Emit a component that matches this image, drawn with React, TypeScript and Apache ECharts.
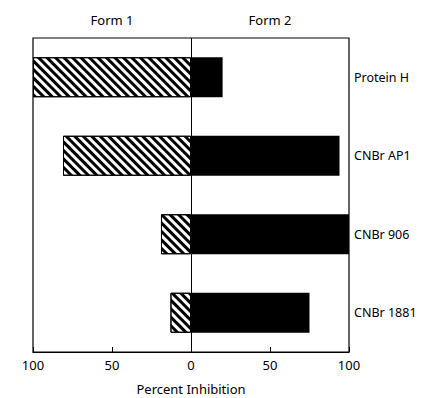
import React, { useEffect, useRef } from "react";
import * as echarts from "echarts";

const categories = ["Protein H", "CNBr AP1", "CNBr 906", "CNBr 1881"];
const form1Values = [100, 81, 19, 13];
const form2Values = [20, 94, 100, 75];
const tickValues = [-100, -50, 0, 50, 100];
const panelTitles = ["Form 1", "Form 2"];

const FONT = "Noto Sans";

export default function App() {
  const ref = useRef<HTMLDivElement>(null);
  useEffect(() => {
    if (!ref.current) return;
    const chart = echarts.init(ref.current, null, { renderer: "svg" });
    const gridLeft = 33, gridRight = 73;
    const plotW = 422 - gridLeft - gridRight;
    chart.setOption({
      animation: false,
      backgroundColor: "#fff",
      grid: {
        left: gridLeft, right: gridRight, top: 38, bottom: 46,
        outerBoundsMode: "none", containLabel: false,
        show: true, borderColor: "#000", borderWidth: 1.2, backgroundColor: "transparent",
      },
      graphic: panelTitles.map((t, i) => ({
        type: "text",
        x: gridLeft + plotW * (0.25 + 0.5 * i),
        y: 20,
        style: { text: t, font: `13px "${FONT}"`, fill: "#000", align: "center", verticalAlign: "middle" },
      })),
      xAxis: {
        type: "value",
        min: -100,
        max: 100,
        interval: 50,
        name: "Percent Inhibition",
        nameLocation: "middle",
        nameGap: 30,
        nameTextStyle: { fontFamily: FONT, fontSize: 13, color: "#000" },
        axisLine: { show: true, onZero: false, lineStyle: { color: "#000", width: 1.2 } },
        axisTick: { show: true, inside: true, length: 5, lineStyle: { color: "#000" } },
        axisLabel: {
          fontFamily: FONT, fontSize: 13, color: "#000", margin: 6,
          formatter: (v: number) => (tickValues.includes(v) ? String(Math.abs(v)) : ""),
        },
        splitLine: { show: false },
      },
      yAxis: {
        type: "category",
        data: categories,
        inverse: true,
        position: "right",
        axisLine: { show: false },
        axisTick: { show: false },
        axisLabel: { fontFamily: FONT, fontSize: 12.5, color: "#000", margin: 5 },
      },
      series: [
        {
          type: "bar",
          name: "Form 1",
          stack: "total",
          barWidth: 40,
          data: form1Values.map((v) => -v),
          itemStyle: {
            color: "#fff",
            borderColor: "#000",
            borderWidth: 1,
            decal: {
              symbol: "rect",
              color: "#000",
              backgroundColor: "#fff",
              dashArrayX: [1, 0],
              dashArrayY: [3, 3],
              rotation: Math.PI / 4,
            },
          },
          markLine: {
            silent: true,
            symbol: "none",
            label: { show: false },
            lineStyle: { color: "#000", type: "solid", width: 1 },
            data: [{ xAxis: 0 }],
          },
        },
        {
          type: "bar",
          name: "Form 2",
          stack: "total",
          barWidth: 40,
          data: form2Values,
          itemStyle: { color: "#000" },
        },
      ],
    });
    return () => chart.dispose();
  }, []);
  return <div ref={ref} style={{ position: "fixed", left: 0, top: 0, width: 422, height: 398 }} />;
}
